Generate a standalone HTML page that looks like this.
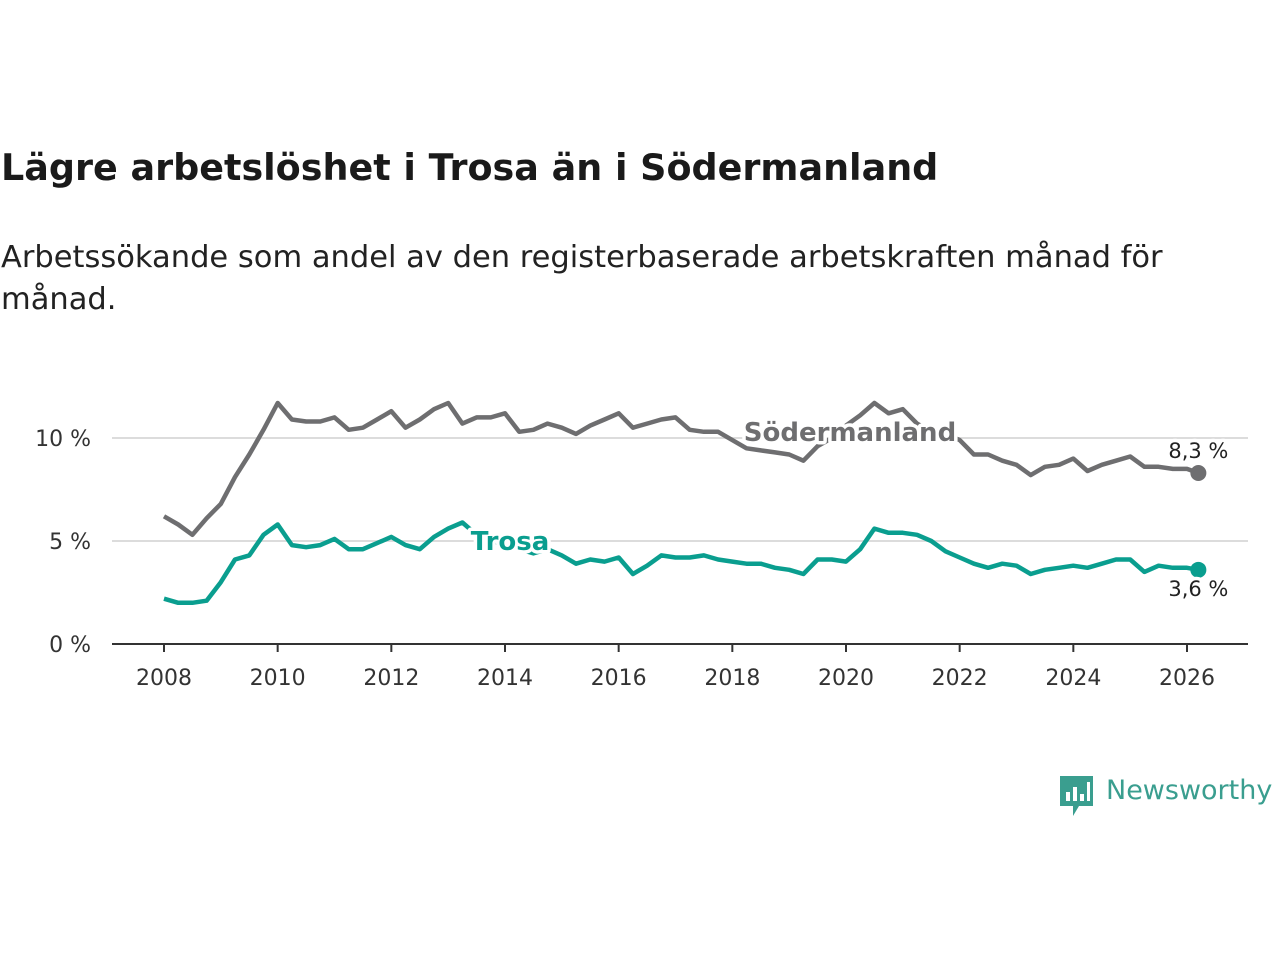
<!DOCTYPE html>
<html><head><meta charset="utf-8">
<style>
body{margin:0;background:#fff;width:1280px;height:960px;overflow:hidden;font-family:"DejaVu Sans","Liberation Sans",sans-serif;}
#title{position:absolute;left:1px;top:146px;font-size:36.5px;font-weight:bold;color:#1a1a1a;margin:0;white-space:nowrap}
#sub{position:absolute;left:1px;top:237px;font-size:30.5px;color:#222;line-height:42px;width:1200px;margin:0}
svg{position:absolute;left:0;top:0}
</style></head><body>
<h1 id="title">Lägre arbetslöshet i Trosa än i Södermanland</h1>
<p id="sub">Arbetssökande som andel av den registerbaserade arbetskraften månad för månad.</p>
<svg id="chart" width="1280" height="960"></svg>
<script>
const startYear=2008;
const sodermanland=[6.2,5.8,5.3,6.1,6.8,8.1,9.2,10.4,11.7,10.9,10.8,10.8,11.0,10.4,10.5,10.9,11.3,10.5,10.9,11.4,11.7,10.7,11.0,11.0,11.2,10.3,10.4,10.7,10.5,10.2,10.6,10.9,11.2,10.5,10.7,10.9,11.0,10.4,10.3,10.3,9.9,9.5,9.4,9.3,9.2,8.9,9.6,10.0,10.6,11.1,11.7,11.2,11.4,10.7,10.3,10.2,9.9,9.2,9.2,8.9,8.7,8.2,8.6,8.7,9.0,8.4,8.7,8.9,9.1,8.6,8.6,8.5,8.5,8.3];
const trosa=[2.2,2.0,2.0,2.1,3.0,4.1,4.3,5.3,5.8,4.8,4.7,4.8,5.1,4.6,4.6,4.9,5.2,4.8,4.6,5.2,5.6,5.9,5.3,5.0,4.8,4.6,4.4,4.6,4.3,3.9,4.1,4.0,4.2,3.4,3.8,4.3,4.2,4.2,4.3,4.1,4.0,3.9,3.9,3.7,3.6,3.4,4.1,4.1,4.0,4.6,5.6,5.4,5.4,5.3,5.0,4.5,4.2,3.9,3.7,3.9,3.8,3.4,3.6,3.7,3.8,3.7,3.9,4.1,4.1,3.5,3.8,3.7,3.7,3.6];
const yTicks=[0,5,10];
const yTickLabels=["0 %","5 %","10 %"];
const xTicks=[2008,2010,2012,2014,2016,2018,2020,2022,2024,2026];
const endLabels=["8,3 %","3,6 %"];

const NS="http://www.w3.org/2000/svg";
const svg=document.getElementById('chart');
const FF='DejaVu Sans, Liberation Sans, sans-serif';
const X=t=>164+(t-2008)*(1187-164)/18;
const Y=v=>644-v*20.6;
function tOf(i,n){return i<n-1?startYear+i*0.25:startYear+(n-2)*0.25+0.2;}
function el(tag,attrs,parent){const e=document.createElementNS(NS,tag);for(const k in attrs)e.setAttribute(k,attrs[k]);(parent||svg).appendChild(e);return e;}

yTicks.forEach((v,i)=>{
  if(v>0){const g=el('line',{x1:112,x2:1248,y1:Y(v),y2:Y(v),stroke:'#dcdcdc','stroke-width':2});
  
  }
  const t=el('text',{x:91,y:Y(v)+8,'text-anchor':'end','font-size':22,fill:'#333','font-family':FF});
  t.textContent=yTickLabels[i];
  
  
});
const ax=el('line',{x1:112,x2:1248,y1:644,y2:644,stroke:'#333','stroke-width':2});


xTicks.forEach(yr=>{
  const tk=el('line',{x1:X(yr),x2:X(yr),y1:644,y2:652,stroke:'#333','stroke-width':2});
  
  
  const t=el('text',{x:X(yr),y:685,'text-anchor':'middle','font-size':22,fill:'#333','font-family':FF});
  t.textContent=yr;
  
  
});
function series(data,color,name){
  const pts=data.map((v,i)=>X(tOf(i,data.length)).toFixed(1)+','+Y(v).toFixed(1)).join(' ');
  const p=el('polyline',{points:pts,fill:'none',stroke:color,'stroke-width':4.5,'stroke-linejoin':'round'});
  
  
  const n=data.length;
  const c=el('circle',{cx:X(tOf(n-1,n)),cy:Y(data[n-1]),r:8,fill:color});
  
  
  return [X(tOf(n-1,n)),Y(data[n-1])];
}
const g1=series(sodermanland,'#6e6e70','sodermanland');
const g2=series(trosa,'#0a9e8f','trosa');
function label(x,y,txt,color,size,bold,name,halo){
  const t=el('text',{x:x,y:y,'font-size':size,fill:color,'font-weight':bold?'bold':'normal','text-anchor':'middle','font-family':FF,stroke:halo?'#fff':'none','stroke-width':halo?7:0,'paint-order':'stroke','stroke-linejoin':'round'});
  t.textContent=txt;
  
  
}
label(850,441,'Södermanland','#6e6e70',26,true,'sodermanland-label',true);
label(510,550,'Trosa','#0a9e8f',26,true,'trosa-label',true);
label(g1[0],g1[1]-15,endLabels[0],'#222',21,false,'sodermanland-end-label',true);
label(g2[0],g2[1]+26,endLabels[1],'#222',21,false,'trosa-end-label',true);
</script>
<div style="position:absolute;left:1059px;top:774px;width:220px;height:44px">
<svg width="36" height="44" style="position:absolute;left:0;top:0"><path d="M1 2h33v30h-14l-6 10v-10h-13z" fill="#3a9e8f"/><rect x="7" y="18" width="4" height="9" fill="#fff"/><rect x="14" y="13" width="4" height="14" fill="#fff"/><rect x="21" y="20" width="4" height="7" fill="#fff"/><rect x="28" y="8" width="3" height="19" fill="#fff"/></svg>
<span style="position:absolute;left:47px;top:1px;font-size:27px;color:#3a9e8f;font-family:'DejaVu Sans',sans-serif;white-space:nowrap">Newsworthy</span>
</div>
</body></html>
